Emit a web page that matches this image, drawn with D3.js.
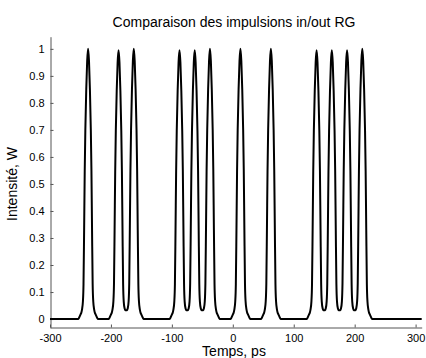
<!DOCTYPE html>
<html>
<head>
<meta charset="utf-8">
<script src="https://cdn.jsdelivr.net/npm/d3@7"></script>
<style>
  html, body { margin: 0; padding: 0; background: #fff; }
  svg { display: block; font-family: "Liberation Sans", Arial, sans-serif; }
</style>
</head>
<body>
<svg id="chart" width="426" height="358"></svg>
<script>
// ---- data ----
const titleText = "Comparaison des impulsions in/out RG";
const xLabelText = "Temps, ps";
const yLabelText = "Intensité, W";
const xTicks = [-300, -200, -100, 0, 100, 200, 300];
const xTickLabels = ["-300", "-200", "-100", "0", "100", "200", "300"];
const yTicks = [0, 0.1, 0.2, 0.3, 0.4, 0.5, 0.6, 0.7, 0.8, 0.9, 1];
const yTickLabels = ["0", "0.1", "0.2", "0.3", "0.4", "0.5", "0.6", "0.7", "0.8", "0.9", "1"];
// pulse centres (ps) and peak intensities (W)
const pulseCenters = [-237.5, -187.5, -162.5, -87.5, -62.5, -37.5, 12.5, 62.5, 137.5, 162.5, 187.5, 212.5];
const pulsePeaks   = [1.0, 0.995, 1.0, 0.995, 0.995, 1.0, 1.0, 1.0, 0.995, 0.995, 0.995, 1.0];
// measured single-pulse profile: offset from centre (ps) -> relative intensity
const profileOffsets = [0, 1.5, 3, 4.5, 5.5, 6.5, 7.5, 8.5, 10, 11, 12.5, 14, 15, 16.5];
const profileValues  = [1.0, 0.955, 0.85, 0.7, 0.55, 0.33, 0.13, 0.065, 0.035, 0.024, 0.0165, 0.009, 0.004, 0];
const xDomain = [-300, 310];
const yDomain = [-0.032, 1.045];

// ---- build trace from the measured profile ----
const key = v => Math.round(v * 100) / 100;
const profileMap = new Map(profileOffsets.map((o, i) => [key(o), profileValues[i]]));
const maxOff = profileOffsets[profileOffsets.length - 1];
const times = new Set([xDomain[0], xDomain[1]]);
pulseCenters.forEach(c => profileOffsets.forEach(o => { times.add(key(c - o)); times.add(key(c + o)); }));
const trace = Array.from(times).sort((a, b) => a - b).map(t => {
  let v = 0;
  pulseCenters.forEach((c, i) => {
    const d = key(Math.abs(t - c));
    if (d < maxOff && profileMap.has(d)) v += pulsePeaks[i] * profileMap.get(d);
  });
  return [t, v];
});

// ---- layout ----
const svg = d3.select("#chart");
const x = d3.scaleLinear().domain(xDomain).range([50, 421.7]);
const y = d3.scaleLinear().domain(yDomain).range([327.7, 36.7]);

// axes (ticks inward, MATLAB style, box off)
const axisColor = "#555";
const xAxis = d3.axisBottom(x).tickValues(xTicks).tickSizeInner(-3).tickSizeOuter(0).tickPadding(7)
  .tickFormat((d, i) => xTickLabels[i]);
const yAxis = d3.axisLeft(y).tickValues(yTicks).tickSizeInner(-3).tickSizeOuter(0).tickPadding(7)
  .tickFormat((d, i) => yTickLabels[i]);

const gx = svg.append("g").attr("transform", "translate(0,327.5)").call(xAxis);
const gy = svg.append("g").attr("transform", "translate(50.5,0)").call(yAxis);
[gx, gy].forEach(g => {
  g.select(".domain").attr("stroke", axisColor);
  g.selectAll(".tick line").attr("stroke", axisColor);
  g.selectAll(".tick text").attr("fill", "#000").attr("font-size", 11)
    .attr("font-family", "'Liberation Sans', Arial, sans-serif");
});
gy.selectAll(".tick text").attr("dx", "0.1em");

// trace
const line = d3.line().x(d => x(d[0])).y(d => y(d[1])).curve(d3.curveMonotoneX);
svg.append("path").datum(trace)
  .attr("fill", "none").attr("stroke", "#000").attr("stroke-width", 2)
  .attr("stroke-linejoin", "round").attr("d", line);

// texts
svg.append("text").attr("x", 234).attr("y", 27).attr("text-anchor", "middle")
  .attr("font-size", 14).attr("fill", "#000").text(titleText);
svg.append("text").attr("x", 234).attr("y", 356).attr("text-anchor", "middle")
  .attr("font-size", 14).attr("fill", "#000").text(xLabelText);
svg.append("text").attr("transform", "translate(17,184) rotate(-90)").attr("text-anchor", "middle")
  .attr("font-size", 14).attr("fill", "#000").text(yLabelText);
</script>
</body>
</html>
